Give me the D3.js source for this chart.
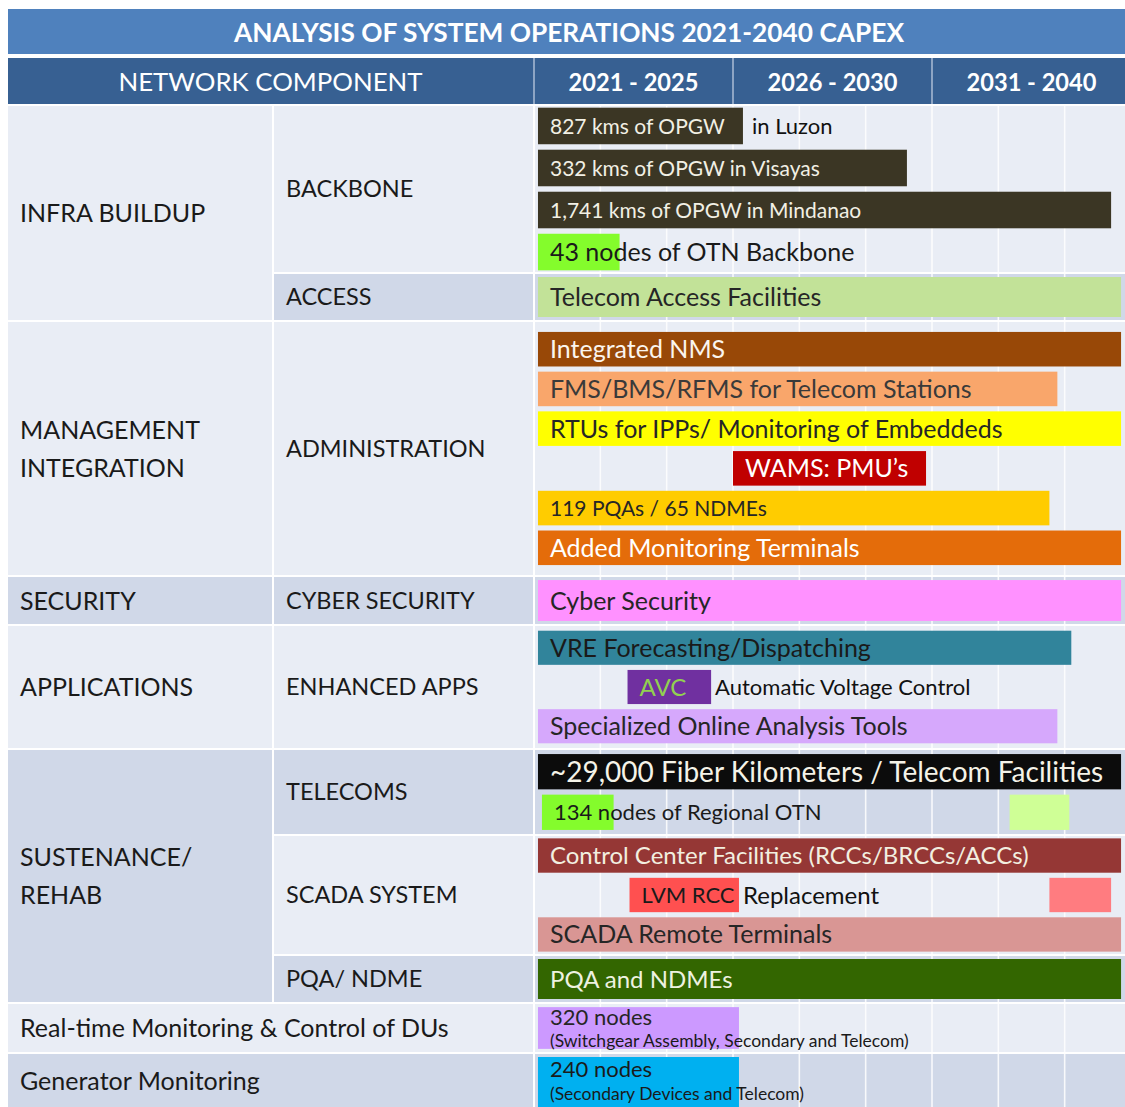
<!DOCTYPE html>
<html><head><meta charset="utf-8">
<script src="https://cdn.jsdelivr.net/npm/d3@7"></script>
<style>
body{margin:0;background:#fff;}
svg text{font-family:Lato,"Open Sans",sans-serif;}
</style>
</head><body>
<svg id="c" width="1125" height="1107"></svg>
<script>
// ---------- data ----------
const title = "ANALYSIS OF SYSTEM OPERATIONS 2021-2040 CAPEX";
const firstHeader = "NETWORK COMPONENT";
const periods = ["2021 - 2025", "2026 - 2030", "2031 - 2040"];
const periodYears = [2021, 2026, 2031, 2041];

const groups = ["INFRA BUILDUP", "MANAGEMENT\nINTEGRATION", "SECURITY", "APPLICATIONS",
  "SUSTENANCE/\nREHAB", "Real-time Monitoring & Control of DUs", "Generator Monitoring"];
const rowNames = ["BACKBONE", "ACCESS", "ADMINISTRATION", "CYBER SECURITY", "ENHANCED APPS",
  "TELECOMS", "SCADA SYSTEM", "PQA/ NDME", "", ""];
const rowGroup = [0, 0, 1, 2, 3, 4, 4, 4, 5, 6];
const rowLanes = [4, 1, 6, 1, 3, 2, 3, 1, 1, 1];

const taskLabels = ["827 kms of OPGW", "332 kms of OPGW in Visayas", "1,741 kms of OPGW in Mindanao",
  "43 nodes of OTN Backbone", "Telecom Access Facilities", "Integrated NMS",
  "FMS/BMS/RFMS for Telecom Stations", "RTUs for IPPs/ Monitoring of Embeddeds", "WAMS: PMU\u2019s",
  "119 PQAs / 65 NDMEs", "Added Monitoring Terminals", "Cyber Security",
  "VRE Forecasting/Dispatching", "AVC", "Specialized Online Analysis Tools",
  "~29,000 Fiber Kilometers / Telecom Facilities", "134 nodes of Regional OTN", "",
  "Control Center Facilities (RCCs/BRCCs/ACCs)", "LVM RCC", "", "SCADA Remote Terminals",
  "PQA and NDMEs", "320 nodes", "240 nodes"];
const taskNotes = ["in Luzon", "", "", "", "", "", "", "", "", "", "", "", "", "Automatic Voltage Control", "",
  "", "", "", "", "Replacement", "", "", "", "", ""];
const taskSubs = ["", "", "", "", "", "", "", "", "", "", "", "", "", "", "", "", "", "", "", "", "", "", "",
  "(Switchgear Assembly, Secondary and Telecom)", "(Secondary Devices and Telecom)"];
const taskRow  = [0, 0, 0, 0, 1, 2, 2, 2, 2, 2, 2, 3, 4, 4, 4, 5, 5, 5, 6, 6, 6, 6, 7, 8, 9];
const taskLane = [0, 1, 2, 3, 0, 0, 1, 2, 3, 4, 5, 0, 0, 1, 2, 0, 1, 1, 0, 1, 1, 2, 0, 0, 0];
const taskStart = [2021.1, 2021.1, 2021.1, 2021.1, 2021.1, 2021.1, 2021.1, 2021.1, 2026.0, 2021.1, 2021.1,
  2021.1, 2021.1, 2023.35, 2021.1, 2021.1, 2021.2, 2034.9, 2021.1, 2023.4, 2036.9, 2021.1, 2021.1, 2021.1, 2021.1];
const taskEnd = [2026.25, 2030.37, 2040.0, 2023.15, 2040.5, 2040.5, 2037.3, 2040.5, 2030.85, 2036.9, 2040.5,
  2040.5, 2038.0, 2025.45, 2037.3, 2040.5, 2023.0, 2037.9, 2040.5, 2026.15, 2040.0, 2040.5, 2040.5, 2026.15, 2026.15];

// ---------- styles / layout ----------
const taskFill = ["#3b3624", "#3b3624", "#3b3624", "#84fc2c", "#c2e298", "#984807", "#f9a66b", "#ffff00",
  "#c00000", "#ffcc00", "#e46c0a", "#ff91ff", "#31849b", "#7030a0", "#d6a8fc", "#0c0c0c", "#84fc2c",
  "#cfff96", "#953735", "#ff5050", "#ff7c80", "#d99694", "#336600", "#cc99ff", "#00b0f0"];
const taskInk = ["#f2f0e4", "#f2f0e4", "#f2f0e4", "#1a1a1a", "#262626", "#fbf5ee", "#3a3a3a", "#262626",
  "#ffffff", "#262626", "#ffffff", "#262626", "#1a1a1a", "#92d050", "#262626", "#f5f3e8", "#1a1a1a",
  "#1a1a1a", "#f2efe0", "#1a1a1a", "#1a1a1a", "#262626", "#eef2e0", "#262626", "#1a1a1a"];
const taskSize = [21, 21, 21, 25, 25, 25, 25, 25, 25, 21, 25, 25, 25, 24, 25, 28, 22, 22, 24, 22, 24, 25, 24, 22, 22];
const rowHeights = [166, 46, 253, 47, 122, 84, 118, 46, 48, 56];
const rowOuterPad = [0.04, 0.075, 0.25, 0.075, 0.12, 0.1, 0.06, 0.075, 0.075, 0.06];

const light = "#e9edf5", dark = "#d0d8e8";
const svg = d3.select("#c");
const W = 1125;

const x = d3.scaleLinear().domain(periodYears).range([534, 733, 932, 1131]);

// row layout
const top0 = 106, gap = 2;
let yy = top0;
const rows = rowLanes.map((n, i) => {
  const h = rowHeights[i];
  const r = { i, top: yy, h, lanes: n };
  yy += h + gap;
  return r;
});
const laneScales = rows.map(r => d3.scaleBand().domain(d3.range(r.lanes))
  .range([r.top, r.top + r.h]).paddingInner(r.lanes > 1 ? 0.13 : 0).paddingOuter(rowOuterPad[r.i]));
const band = i => (i % 2 === 0 ? light : dark);

// title & header
svg.append("rect").attr("x", 8).attr("y", 9).attr("width", W).attr("height", 45).attr("fill", "#4f81bd");
svg.append("text").attr("x", 569).attr("y", 42).attr("text-anchor", "middle")
  .attr("fill", "#fff").attr("font-weight", 700).attr("font-size", 27)
  .attr("textLength", 670).attr("lengthAdjust", "spacingAndGlyphs").text(title);

svg.append("rect").attr("x", 8).attr("y", 58).attr("width", W).attr("height", 46).attr("fill", "#376092");
const headCells = [[8, 533]].concat(periods.map((p, i) => [x(periodYears[i]), x(periodYears[i + 1])]));
const headTexts = [firstHeader].concat(periods);
headCells.forEach((c, i) => {
  if (i > 0) svg.append("line").attr("x1", c[0]).attr("x2", c[0]).attr("y1", 58).attr("y2", 104)
    .attr("stroke", "#c8d4e6").attr("stroke-width", 1.2);
  svg.append("text").attr("x", (c[0] + c[1]) / 2).attr("y", 91).attr("text-anchor", "middle")
    .attr("fill", "#fff").attr("font-size", 25).attr("font-weight", i === 0 ? 400 : 700)
    .attr("textLength", i === 0 ? 304 : 130).attr("lengthAdjust", "spacingAndGlyphs")
    .text(headTexts[i]);
});

// chart-area row backgrounds
rows.forEach(r => {
  svg.append("rect").attr("x", 535).attr("y", r.top).attr("width", W - 535).attr("height", r.h).attr("fill", band(r.i));
});
// grid lines (3 per period)
const gridYears = [];
periodYears.slice(0, -1).forEach((a, i) => {
  const b = periodYears[i + 1];
  [0, 1, 2].forEach(k => gridYears.push(a + (b - a) * k / 3));
});
gridYears.slice(1).forEach(g => {
  svg.append("line").attr("x1", x(g)).attr("x2", x(g)).attr("y1", top0).attr("y2", 1107)
    .attr("stroke", "#ffffff").attr("stroke-width", 1.6).attr("opacity", 0.85);
});

// left cells
const groupSpan = groups.map((g, gi) => {
  const rs = rows.filter(r => rowGroup[r.i] === gi);
  return { gi, top: rs[0].top, bottom: rs[rs.length - 1].top + rs[rs.length - 1].h, first: rs[0].i, full: rowNames[rs[0].i] === "" };
});
groupSpan.forEach(s => {
  svg.append("rect").attr("x", 8).attr("y", s.top).attr("width", s.full ? 525 : 264)
    .attr("height", s.bottom - s.top).attr("fill", band(s.first));
  const lines = groups[s.gi].split("\n");
  const cy = s.gi === 6 ? s.top + 27 : (s.top + s.bottom) / 2;
  lines.forEach((l, k) => {
    svg.append("text").attr("x", 20).attr("y", cy + (k - (lines.length - 1) / 2) * 38)
      .attr("dy", "0.36em").attr("font-size", 25).attr("fill", "#1a1a1a").text(l);
  });
});
rows.forEach(r => {
  if (rowNames[r.i] === "") return;
  svg.append("rect").attr("x", 274).attr("y", r.top).attr("width", 259).attr("height", r.h).attr("fill", band(r.i));
  svg.append("text").attr("x", 286).attr("y", r.top + r.h / 2).attr("dy", "0.36em")
    .attr("font-size", 23.5).attr("fill", "#1a1a1a").text(rowNames[r.i]);
});

// bars
const pad = 12;
taskLabels.forEach((lab, i) => {
  const ls = laneScales[taskRow[i]];
  const y0 = ls(taskLane[i]), bh = ls.bandwidth();
  const x0 = x(taskStart[i]), x1 = x(taskEnd[i]);
  svg.append("rect").attr("x", x0).attr("y", y0).attr("width", x1 - x0).attr("height", bh)
    .attr("fill", taskFill[i]);
  if (taskSubs[i]) {
    const tall = bh > 45;
    svg.append("text").attr("x", x0 + pad).attr("y", y0 + (tall ? 20 : 18)).attr("font-size", taskSize[i])
      .attr("fill", taskInk[i]).text(lab);
    svg.append("text").attr("x", x0 + pad).attr("y", y0 + (tall ? 43 : 40)).attr("font-size", 17.5)
      .attr("fill", "#1a1a1a").text(taskSubs[i]);
  } else if (lab) {
    svg.append("text").attr("x", x0 + pad).attr("y", y0 + bh / 2).attr("dy", "0.36em")
      .attr("font-size", taskSize[i]).attr("fill", taskInk[i]).text(lab);
  }
  if (taskNotes[i]) {
    svg.append("text").attr("x", x1 + (i === 0 ? 9 : 4)).attr("y", y0 + bh / 2).attr("dy", "0.36em")
      .attr("font-size", i === 19 ? 24 : 22).attr("fill", "#111").text(taskNotes[i]);
  }
});
</script>
</body></html>
